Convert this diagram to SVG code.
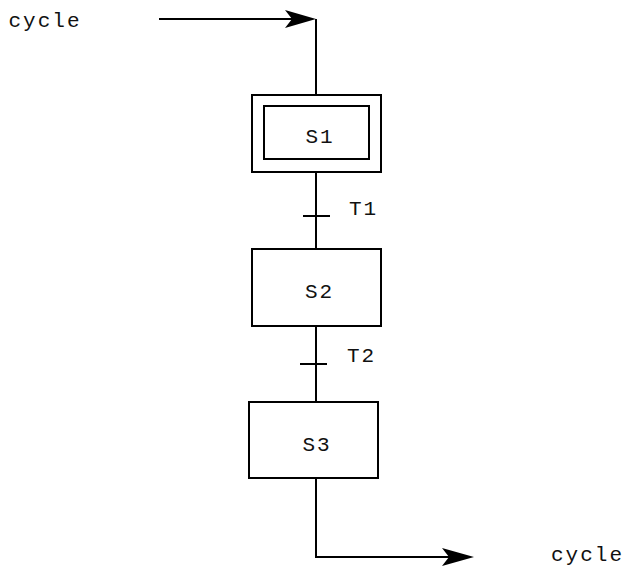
<svg xmlns="http://www.w3.org/2000/svg" width="626" height="570" viewBox="0 0 626 570">
  <style>
    .box { fill: #fff; stroke: #000; stroke-width: 2; }
    .wire { fill: none; stroke: #000; stroke-width: 2; }
    .head { fill: #000; stroke: none; }
    .lbl { font-family: "Liberation Mono", "Courier New", monospace; font-size: 21px; letter-spacing: 2px; fill: #111; }
  </style>
  <rect width="626" height="570" fill="#fff"/>

  <g id="connectors">
    <!-- entry arrow -->
    <line class="wire" x1="159" y1="19" x2="300" y2="19"/>
    <polygon class="head" points="316,19 285,10 292,19 285,28"/>
    <line class="wire" x1="316" y1="19" x2="316" y2="95"/>
    <!-- S1 -> S2 -->
    <line class="wire" x1="316" y1="172" x2="316" y2="249"/>
    <!-- S2 -> S3 -->
    <line class="wire" x1="316" y1="326" x2="316" y2="402"/>
    <!-- exit arrow -->
    <polyline class="wire" points="316,478 316,557 455,557"/>
    <polygon class="head" points="474,557 442,548 449,557 442,566"/>
  </g>

  <g id="S1">
    <rect class="box" x="252" y="95" width="129" height="77"/>
    <rect class="box" x="264" y="106" width="105" height="53"/>
    <text class="lbl" x="305.5" y="143">S1</text>
  </g>

  <g id="T1">
    <line class="wire" x1="303" y1="216" x2="330" y2="216"/>
    <text class="lbl" x="349" y="215">T1</text>
  </g>

  <g id="S2">
    <rect class="box" x="252" y="249" width="129" height="77"/>
    <text class="lbl" x="305" y="298">S2</text>
  </g>

  <g id="T2">
    <line class="wire" x1="300" y1="364" x2="327" y2="364"/>
    <text class="lbl" x="347" y="362">T2</text>
  </g>

  <g id="S3">
    <rect class="box" x="249" y="402" width="129" height="76"/>
    <text class="lbl" x="302.5" y="451">S3</text>
  </g>

  <g id="cycle-in">
    <text class="lbl" x="8.5" y="27">cycle</text>
  </g>
  <g id="cycle-out">
    <text class="lbl" x="551" y="561">cycle</text>
  </g>
</svg>
